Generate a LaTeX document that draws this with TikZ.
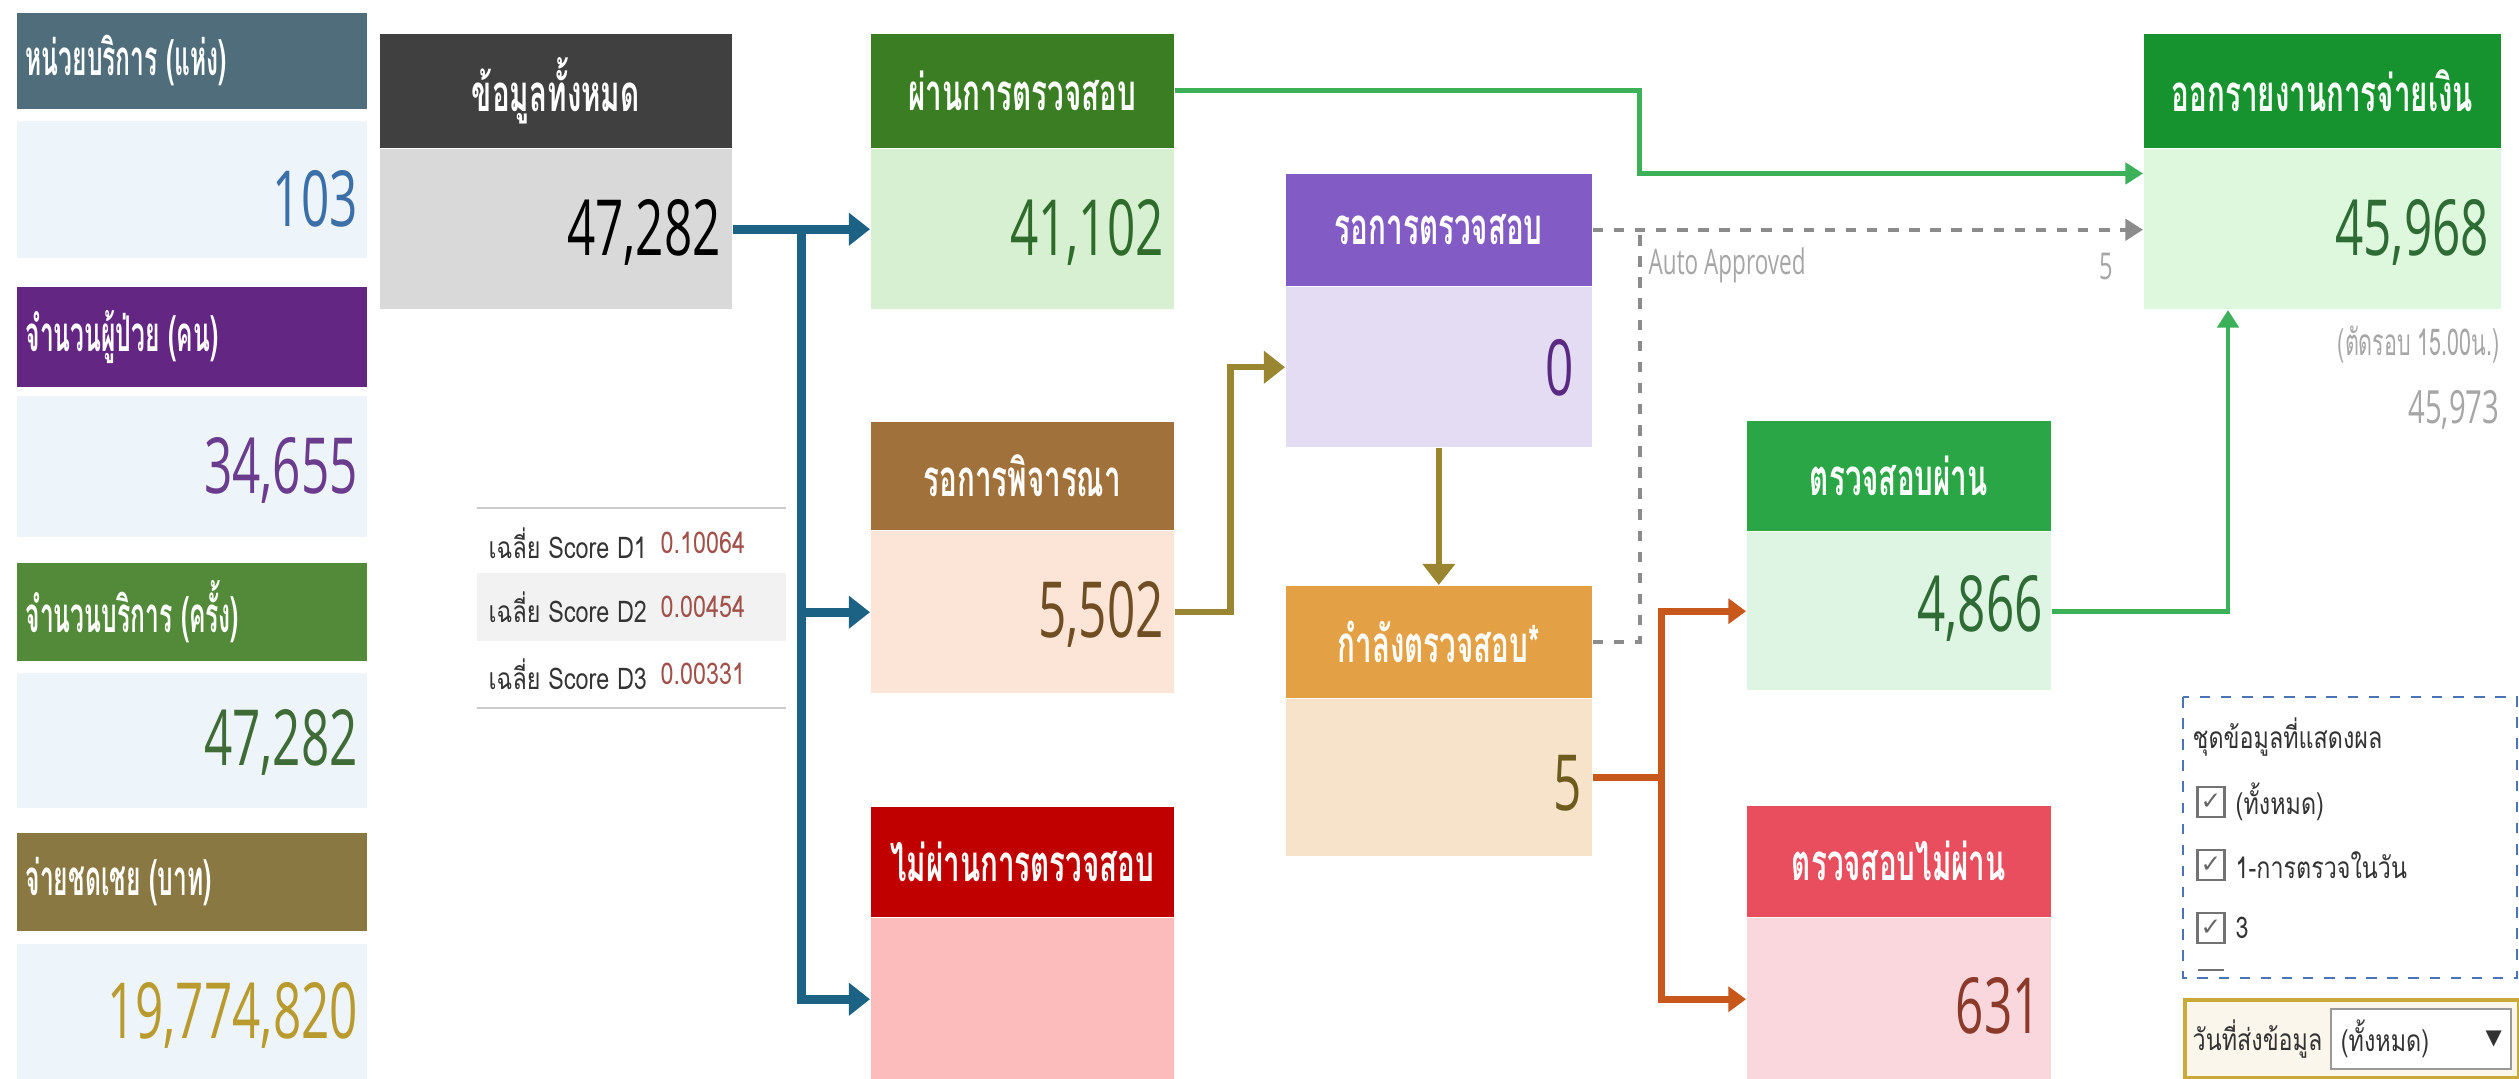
\documentclass[tikz,border=0pt]{standalone}
\usepackage{fontspec}
\setmainfont[Script=Thai]{Loma}
\newfontfamily\thaifont[Script=Thai,FakeStretch=0.78]{Loma}
\newfontfamily\thainarrow[Script=Thai,FakeStretch=0.58]{Loma}
\newfontfamily\thaicond[Script=Thai,FakeStretch=0.5]{Loma}
\newfontfamily\numfont[FakeStretch=0.64]{Open Sans}
\newfontfamily\dejavu{DejaVu Sans}
\usepackage{xcolor}
\usetikzlibrary{
    arrows.meta,
    positioning,
    calc
}
\definecolor{slateH}{HTML}{4F6D7A}
\definecolor{paleB}{HTML}{EEF5FA}
\definecolor{purpleH}{HTML}{642683}
\definecolor{purpleN}{HTML}{6B3B8E}
\definecolor{blueN}{HTML}{3B6FA8}
\definecolor{greenH}{HTML}{538A3A}
\definecolor{greenN}{HTML}{3E6B36}
\definecolor{oliveH}{HTML}{8A7843}
\definecolor{goldN}{HTML}{B89A2E}
\definecolor{allH}{HTML}{404040}
\definecolor{allB}{HTML}{D9D9D9}
\definecolor{passH}{HTML}{3B7D23}
\definecolor{passB}{HTML}{D8F0D2}
\definecolor{passN}{HTML}{2F6B2A}
\definecolor{pendH}{HTML}{A0713A}
\definecolor{pendB}{HTML}{FCE4D6}
\definecolor{pendN}{HTML}{6E4E22}
\definecolor{failH}{HTML}{C00000}
\definecolor{failB}{HTML}{FCBCBC}
\definecolor{waitH}{HTML}{825CC4}
\definecolor{waitB}{HTML}{E3DCF2}
\definecolor{waitN}{HTML}{5A2A82}
\definecolor{checkH}{HTML}{E3A044}
\definecolor{checkB}{HTML}{F6E3CA}
\definecolor{checkN}{HTML}{6E5B1E}
\definecolor{okH}{HTML}{2BA646}
\definecolor{okB}{HTML}{DFF5E4}
\definecolor{okN}{HTML}{2E6B35}
\definecolor{nokH}{HTML}{E84E5E}
\definecolor{nokB}{HTML}{FAD7DC}
\definecolor{nokN}{HTML}{8B3A2A}
\definecolor{payH}{HTML}{16922E}
\definecolor{payB}{HTML}{DDF8DC}
\definecolor{flowBlue}{HTML}{1B6285}
\definecolor{flowOlive}{HTML}{9A8630}
\definecolor{flowOrange}{HTML}{C8571C}
\definecolor{flowGreen}{HTML}{3DB05A}
\definecolor{flowGray}{HTML}{8C8C8C}
\definecolor{scoreN}{HTML}{A0524A}
\definecolor{legendB}{HTML}{4A74B5}
\definecolor{dropB}{HTML}{C9A93A}
\definecolor{dropF}{HTML}{FBF6EC}

\begin{document}
\begin{tikzpicture}[x=0.01cm, y=-0.01cm,
    cardhead/.style={fill=#1, text=white, anchor=north west, inner sep=0pt,
        font=\thainarrow\bfseries\fontsize{14.5}{17}\selectfont},
    sidehead/.style={cardhead=#1, text width=3.32cm, align=left, inner xsep=0.09cm,
        font=\thaicond\bfseries\fontsize{14}{17}\selectfont},
    cardbody/.style={fill=#1, inner sep=0pt},
    bignum/.style={text=#1, anchor=east, inner sep=0pt,
        font=\numfont\fontsize{22}{26}\selectfont},
    flow/.style={draw=#1, -{Triangle[length=6pt, width=9pt]}},
    small/.style={inner sep=0pt, anchor=west, text=black!80,
        font=\thaifont\fontsize{8.5}{10}\selectfont},
    ticked/.style={draw=black!55, line width=0.6pt, minimum width=0.27cm,
        minimum height=0.3cm, inner sep=0pt, text=black!60,
        font=\dejavu\fontsize{7}{7}\selectfont}
]
\useasboundingbox (0,0) rectangle (2519,1078);
\fill[white] (0,0) rectangle (2519,1078);

% side panel
\node[sidehead=slateH, minimum width=3.5cm, minimum height=0.96cm] (unith) at (16,12) {หน่วยบริการ\hspace{2.5pt}(แห่ง)};
\node[cardbody=paleB, minimum width=3.5cm, minimum height=1.37cm, anchor=north west] (unitb) at (16,120) {};
\node[sidehead=purpleH, minimum width=3.5cm, minimum height=1.0cm] (patih) at (16,286) {จำนวนผู้ป่วย\hspace{2.5pt}(คน)};
\node[cardbody=paleB, minimum width=3.5cm, minimum height=1.41cm, anchor=north west] (patib) at (16,395) {};
\node[sidehead=greenH, minimum width=3.5cm, minimum height=0.98cm] (servh) at (16,562) {จำนวนบริการ\hspace{2.5pt}(ครั้ง)};
\node[cardbody=paleB, minimum width=3.5cm, minimum height=1.35cm, anchor=north west] (servb) at (16,672) {};
\node[sidehead=oliveH, minimum width=3.5cm, minimum height=0.98cm] (paidh) at (16,832) {จ่ายชดเชย\hspace{2.5pt}(บาท)};
\node[cardbody=paleB, minimum width=3.5cm, minimum height=1.35cm, anchor=north west] (paidb) at (16,943) {};
\node[bignum=blueN] (unitn) at ($(unitb.east)+(-9,10)$) {103};
\node[bignum=purpleN] (patin) at ($(patib.east)+(-9,4)$) {34,655};
\node[bignum=greenN] (servn) at ($(servb.east)+(-9,2)$) {47,282};
\node[bignum=goldN] (paidn) at ($(paidb.east)+(-9,4)$) {19,774,820};

% flow cards
\node[cardhead=allH, minimum width=3.52cm, minimum height=1.14cm] (allh) at (379,33) {ข้อมูลทั้งหมด};
\node[cardbody=allB, minimum width=3.52cm, minimum height=1.6cm, below=0pt of allh] (allb) {};
\node[cardhead=passH, minimum width=3.03cm, minimum height=1.14cm] (passh) at (870,33) {ผ่านการตรวจสอบ};
\node[cardbody=passB, minimum width=3.03cm, minimum height=1.6cm, below=0pt of passh] (passb) {};
\node[cardhead=pendH, minimum width=3.03cm, minimum height=1.08cm] (pendh) at (870,421) {รอการพิจารณา};
\node[cardbody=pendB, minimum width=3.03cm, minimum height=1.62cm, below=0pt of pendh] (pendb) {};
\node[cardhead=failH, minimum width=3.03cm, minimum height=1.1cm] (failh) at (870,806) {ไม่ผ่านการตรวจสอบ};
\node[cardbody=failB, minimum width=3.03cm, minimum height=1.62cm, below=0pt of failh] (failb) {};
\node[cardhead=waitH, minimum width=3.06cm, minimum height=1.12cm] (waith) at (1285,173) {รอการตรวจสอบ};
\node[cardbody=waitB, minimum width=3.06cm, minimum height=1.6cm, below=0pt of waith] (waitb) {};
\node[cardhead=checkH, minimum width=3.06cm, minimum height=1.12cm] (checkh) at (1285,585) {กำลังตรวจสอบ*};
\node[cardbody=checkB, minimum width=3.06cm, minimum height=1.57cm, below=0pt of checkh] (checkb) {};
\node[cardhead=okH, minimum width=3.04cm, minimum height=1.1cm] (okh) at (1746,420) {ตรวจสอบผ่าน};
\node[cardbody=okB, minimum width=3.04cm, minimum height=1.58cm, below=0pt of okh] (okb) {};
\node[cardhead=nokH, minimum width=3.04cm, minimum height=1.11cm] (nokh) at (1746,805) {ตรวจสอบไม่ผ่าน};
\node[cardbody=nokB, minimum width=3.04cm, minimum height=1.62cm, below=0pt of nokh] (nokb) {};
\node[cardhead=payH, minimum width=3.57cm, minimum height=1.14cm] (payh) at (2143,33) {ออกรายงานการจ่ายเงิน};
\node[cardbody=payB, minimum width=3.57cm, minimum height=1.6cm, below=0pt of payh] (payb) {};

\node[bignum=black] (alln) at ($(allb.east)+(-11,3)$) {47,282};
\node[bignum=passN] (passn) at ($(passb.east)+(-10,3)$) {41,102};
\node[bignum=pendN] (pendn) at ($(pendb.east)+(-10,2)$) {5,502};
\node[bignum=waitN] (waitn) at ($(waitb.east)+(-18,1)$) {0};
\node[bignum=checkN] (checkn) at ($(checkb.east)+(-10,6)$) {5};
\node[bignum=okN] (okn) at ($(okb.east)+(-8,-3)$) {4,866};
\node[bignum=nokN] (nokn) at ($(nokb.east)+(-10,7)$) {631};
\node[bignum=okN] (payn) at ($(payb.east)+(-12,3)$) {45,968};
\node[bignum=black!35, font=\thainarrow\fontsize{10.5}{12}\selectfont] (cutoff) at (2500,345) {(ตัดรอบ 15.00น.)};
\node[bignum=black!35, font=\numfont\fontsize{13}{15}\selectfont] (cutoffn) at (2500,410) {45,973};

% connectors
\coordinate (bsplit) at ($(allb.east)+(69,0)$);
\draw[flowBlue, line width=2.6pt] (allb.east) -- (bsplit);
\foreach \t in {passb,pendb,failb}
    \draw[flow=flowBlue, line width=2.6pt] (bsplit) |- (\t.west);
\draw[flow=flowOlive, line width=1.8pt] (pendb.east) -- ++(56,0) |- (waitb.west);
\draw[flow=flowOlive, line width=1.8pt] (waitb.south) -- (checkh.north);
\coordinate (osplit) at ($(checkb.east)+(69,0)$);
\draw[flowOrange, line width=2pt] (checkb.east) -- (osplit);
\foreach \t in {okb,nokb}
    \draw[flow=flowOrange, line width=2pt, -{Triangle[length=5pt, width=7pt]}] (osplit) |- (\t.west);
\coordinate (payin) at ($(payb.north west)+(0,25)$);
\draw[flow=flowGreen, line width=1.3pt, -{Triangle[length=5pt, width=6pt]}] (passh.east) -- ++(465,0) |- (payin);
\coordinate (paybot) at ($(payb.south west)+(85,0)$);
\draw[flow=flowGreen, line width=1.3pt, -{Triangle[length=5pt, width=6pt]}] (okb.east) -| (paybot);
\coordinate (autoin) at ($(payb.north west)+(0,82)$);
\coordinate (autoj) at ($(waith.east)+(47,0)$);
\draw[flow=flowGray, line width=1.2pt, dashed, -{Triangle[length=5pt, width=6pt]}] (waith.east) -- (waith.east -| autoin);
\draw[flowGray, line width=1.2pt, dashed] (checkh.east) -| (autoj);
\node[small, text=black!35, font=\numfont\fontsize{10}{12}\selectfont] (autol) at (1648,265) {Auto Approved};
\node[small, anchor=east, text=black!35, font=\numfont\fontsize{10.5}{12}\selectfont] (auton) at (2114,266) {5};

% score table
\fill[black!5] (477,573) rectangle (786,641);
\draw[black!20, line width=0.7pt] (477,508) -- (786,508);
\draw[black!20, line width=0.7pt] (477,708) -- (786,708);
\foreach \d/\v/\y in {1/0.10064/543, 2/0.00454/607, 3/0.00331/674}{
    \node[small] (score\d) at (488,\y) {เฉลี่ย Score D\d};
    \node[small, text=scoreN] (scorev\d) at (660,\y) {\v};
}

% filter panel
\draw[legendB, line width=0.8pt, dashed] (2183,697) rectangle (2517,978);
\node[small] (legt) at (2192,737) {ชุดข้อมูลที่แสดงผล};
\foreach \n/\s/\y in {1/(ทั้งหมด)/802, 2/1-การตรวจในวัน/865, 3/3/928}{
    \node[ticked] (cb\n) at (2211,\y) {✓};
    \node[small] (cbl\n) at (2235,\y) {\s};
}
\draw[black!55, line width=0.8pt] (2198,970) -- (2224,970);
\node[draw=dropB, fill=dropF, line width=1.2pt, anchor=north west, inner sep=0pt,
    minimum width=3.34cm, minimum height=0.78cm] (dropf) at (2183,998) {};
\node[draw=black!40, fill=white, line width=0.6pt, anchor=east, inner sep=0pt,
    minimum width=1.8cm, minimum height=0.6cm] (dropv) at ($(dropf.east)+(-9,0)$) {};
\node[small] (dropl) at ($(dropf.west)+(9,0)$) {วันที่ส่งข้อมูล};
\node[small] (dropt) at ($(dropv.west)+(10,0)$) {(ทั้งหมด)};
\node[small, anchor=east, font=\dejavu\fontsize{6}{6}\selectfont] (dropa) at ($(dropv.east)+(-10,0)$) {▼};
\end{tikzpicture}
\end{document}
